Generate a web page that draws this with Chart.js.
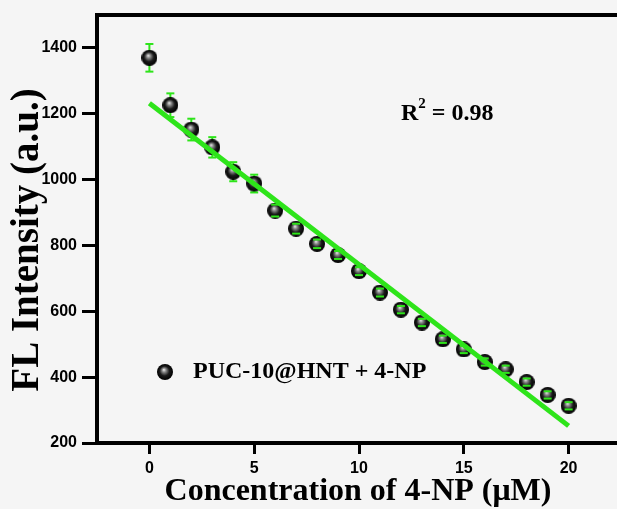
<!DOCTYPE html>
<html>
<head>
<meta charset="utf-8">
<title>FL Intensity vs 4-NP</title>
<script src="https://cdn.jsdelivr.net/npm/chart.js"></script>
<style>
  html, body { margin: 0; padding: 0; background: #f5f5f5; overflow: hidden; }
  #wrap { width: 630px; height: 509px; }
</style>
</head>
<body>
<div id="wrap"><canvas id="chart" width="630" height="509"></canvas></div>
<script>
// Quenching data: PUC-10@HNT + 4-NP
const concentration = [0, 1, 2, 3, 4, 5, 6, 7, 8, 9, 10, 11, 12, 13, 14, 15, 16, 17, 18, 19, 20];
const intensity = [1370, 1226, 1152, 1098, 1024, 988, 906, 851, 805, 771, 722, 657, 605, 566, 515, 484, 446, 424, 385, 346, 313];
const errors = [42, 36, 33, 31, 29, 27, 18, 15, 13, 12, 12, 12, 11, 11, 11, 11, 11, 11, 11, 11, 11];

// Linear fit
const fitX = [0, 20];
const fitY = [1232, 252];

const xTicks = [0, 5, 10, 15, 20];
const yTicks = [200, 400, 600, 800, 1000, 1200, 1400];

const GREEN = '#2ee41a';
const SERIF = '"Liberation Serif", "Times New Roman", serif';

// Shaded sphere used as the point marker
function makeSphere(r) {
    const c = document.createElement('canvas');
    c.width = c.height = r * 2;
    const g = c.getContext('2d');
    const grad = g.createRadialGradient(r * 0.85, r * 0.7, 0, r, r, r);
    grad.addColorStop(0, '#f4f4f4');
    grad.addColorStop(0.25, '#8a8a8a');
    grad.addColorStop(0.6, '#1a1a1a');
    grad.addColorStop(1, '#000');
    g.fillStyle = grad;
    g.beginPath();
    g.arc(r, r, r, 0, Math.PI * 2);
    g.fill();
    return c;
}
const sphere = makeSphere(8);
const legendSphere = makeSphere(8);

// Error bars: stems behind the markers, caps on top
const errorBars = {
    id: 'errorBars',
    beforeDatasetsDraw(chart) {
        const {ctx, scales: {x, y}} = chart;
        ctx.save();
        ctx.strokeStyle = GREEN;
        ctx.lineWidth = 2;
        concentration.forEach((c, i) => {
            const px = x.getPixelForValue(c);
            ctx.beginPath();
            ctx.moveTo(px, y.getPixelForValue(intensity[i] + errors[i]));
            ctx.lineTo(px, y.getPixelForValue(intensity[i] - errors[i]));
            ctx.stroke();
        });
        ctx.restore();
    },
    afterDatasetsDraw(chart) {
        const {ctx, scales: {x, y}} = chart;
        ctx.save();
        ctx.strokeStyle = GREEN;
        ctx.lineWidth = 2;
        concentration.forEach((c, i) => {
            const px = x.getPixelForValue(c);
            [intensity[i] + errors[i], intensity[i] - errors[i]].forEach(v => {
                const py = y.getPixelForValue(v);
                ctx.beginPath();
                ctx.moveTo(px - 4, py);
                ctx.lineTo(px + 4, py);
                ctx.stroke();
            });
        });
        ctx.restore();
    }
};

// Heavy frame, axis titles, legend and R² annotation
const decorations = {
    id: 'decorations',
    afterDraw(chart) {
        const {ctx, chartArea: a} = chart;
        ctx.save();
        ctx.strokeStyle = '#000';
        ctx.lineWidth = 4;
        ctx.strokeRect(a.left, a.top, a.right - a.left, a.bottom - a.top);

        ctx.fillStyle = '#000';
        ctx.textBaseline = 'alphabetic';

        // axis titles
        ctx.textAlign = 'center';
        ctx.font = 'bold 32px ' + SERIF;
        ctx.fillText('Concentration of 4-NP (\u03bcM)', 358, 500);
        ctx.save();
        ctx.translate(38, 240);
        ctx.rotate(-Math.PI / 2);
        ctx.font = 'bold 39px ' + SERIF;
        ctx.fillText('FL Intensity (a.u.)', 0, 0);
        ctx.restore();

        // legend
        ctx.textAlign = 'left';
        ctx.drawImage(legendSphere, 157, 364);
        ctx.font = 'bold 24px ' + SERIF;
        ctx.fillText('PUC-10@HNT + 4-NP', 193, 378);

        // R²
        ctx.fillText('R', 401, 120);
        const rw = ctx.measureText('R').width;
        ctx.font = 'bold 15px ' + SERIF;
        ctx.fillText('2', 401 + rw, 108);
        const sw = ctx.measureText('2').width;
        ctx.font = 'bold 24px ' + SERIF;
        ctx.fillText(' = 0.98', 401 + rw + sw, 120);
        ctx.restore();
    }
};

const tickFont = { family: '"Liberation Sans", Arial, sans-serif', size: 16, weight: 'bold' };

new Chart(document.getElementById('chart'), {
    data: {
        datasets: [
            {
                type: 'line',
                data: fitX.map((v, i) => ({ x: v, y: fitY[i] })),
                borderColor: GREEN,
                borderWidth: 5,
                pointRadius: 0,
                order: 0
            },
            {
                type: 'scatter',
                data: concentration.map((v, i) => ({ x: v, y: intensity[i] })),
                pointStyle: sphere,
                order: 1
            }
        ]
    },
    options: {
        responsive: false,
        animation: false,
        layout: { padding: { top: 15, right: 9, left: 0, bottom: 0 } },
        plugins: { legend: { display: false }, tooltip: { enabled: false } },
        scales: {
            x: {
                type: 'linear',
                min: -2.5,
                max: 22.5,
                afterBuildTicks: s => { s.ticks = xTicks.map(v => ({ value: v })); },
                afterFit: s => { s.height = 66; },
                grid: { drawOnChartArea: false, tickLength: 11, tickWidth: 3, tickColor: '#000' },
                border: { display: false },
                ticks: { color: '#000', font: tickFont, padding: 5, callback: v => String(v) }
            },
            y: {
                type: 'linear',
                min: 200,
                max: 1500,
                afterBuildTicks: s => { s.ticks = yTicks.map(v => ({ value: v })); },
                afterFit: s => { s.width = 97; },
                grid: { drawOnChartArea: false, tickLength: 15, tickWidth: 3, tickColor: '#000' },
                border: { display: false },
                ticks: { color: '#000', font: tickFont, padding: 5, callback: v => String(v) }
            }
        }
    },
    plugins: [errorBars, decorations]
});
</script>
</body>
</html>
